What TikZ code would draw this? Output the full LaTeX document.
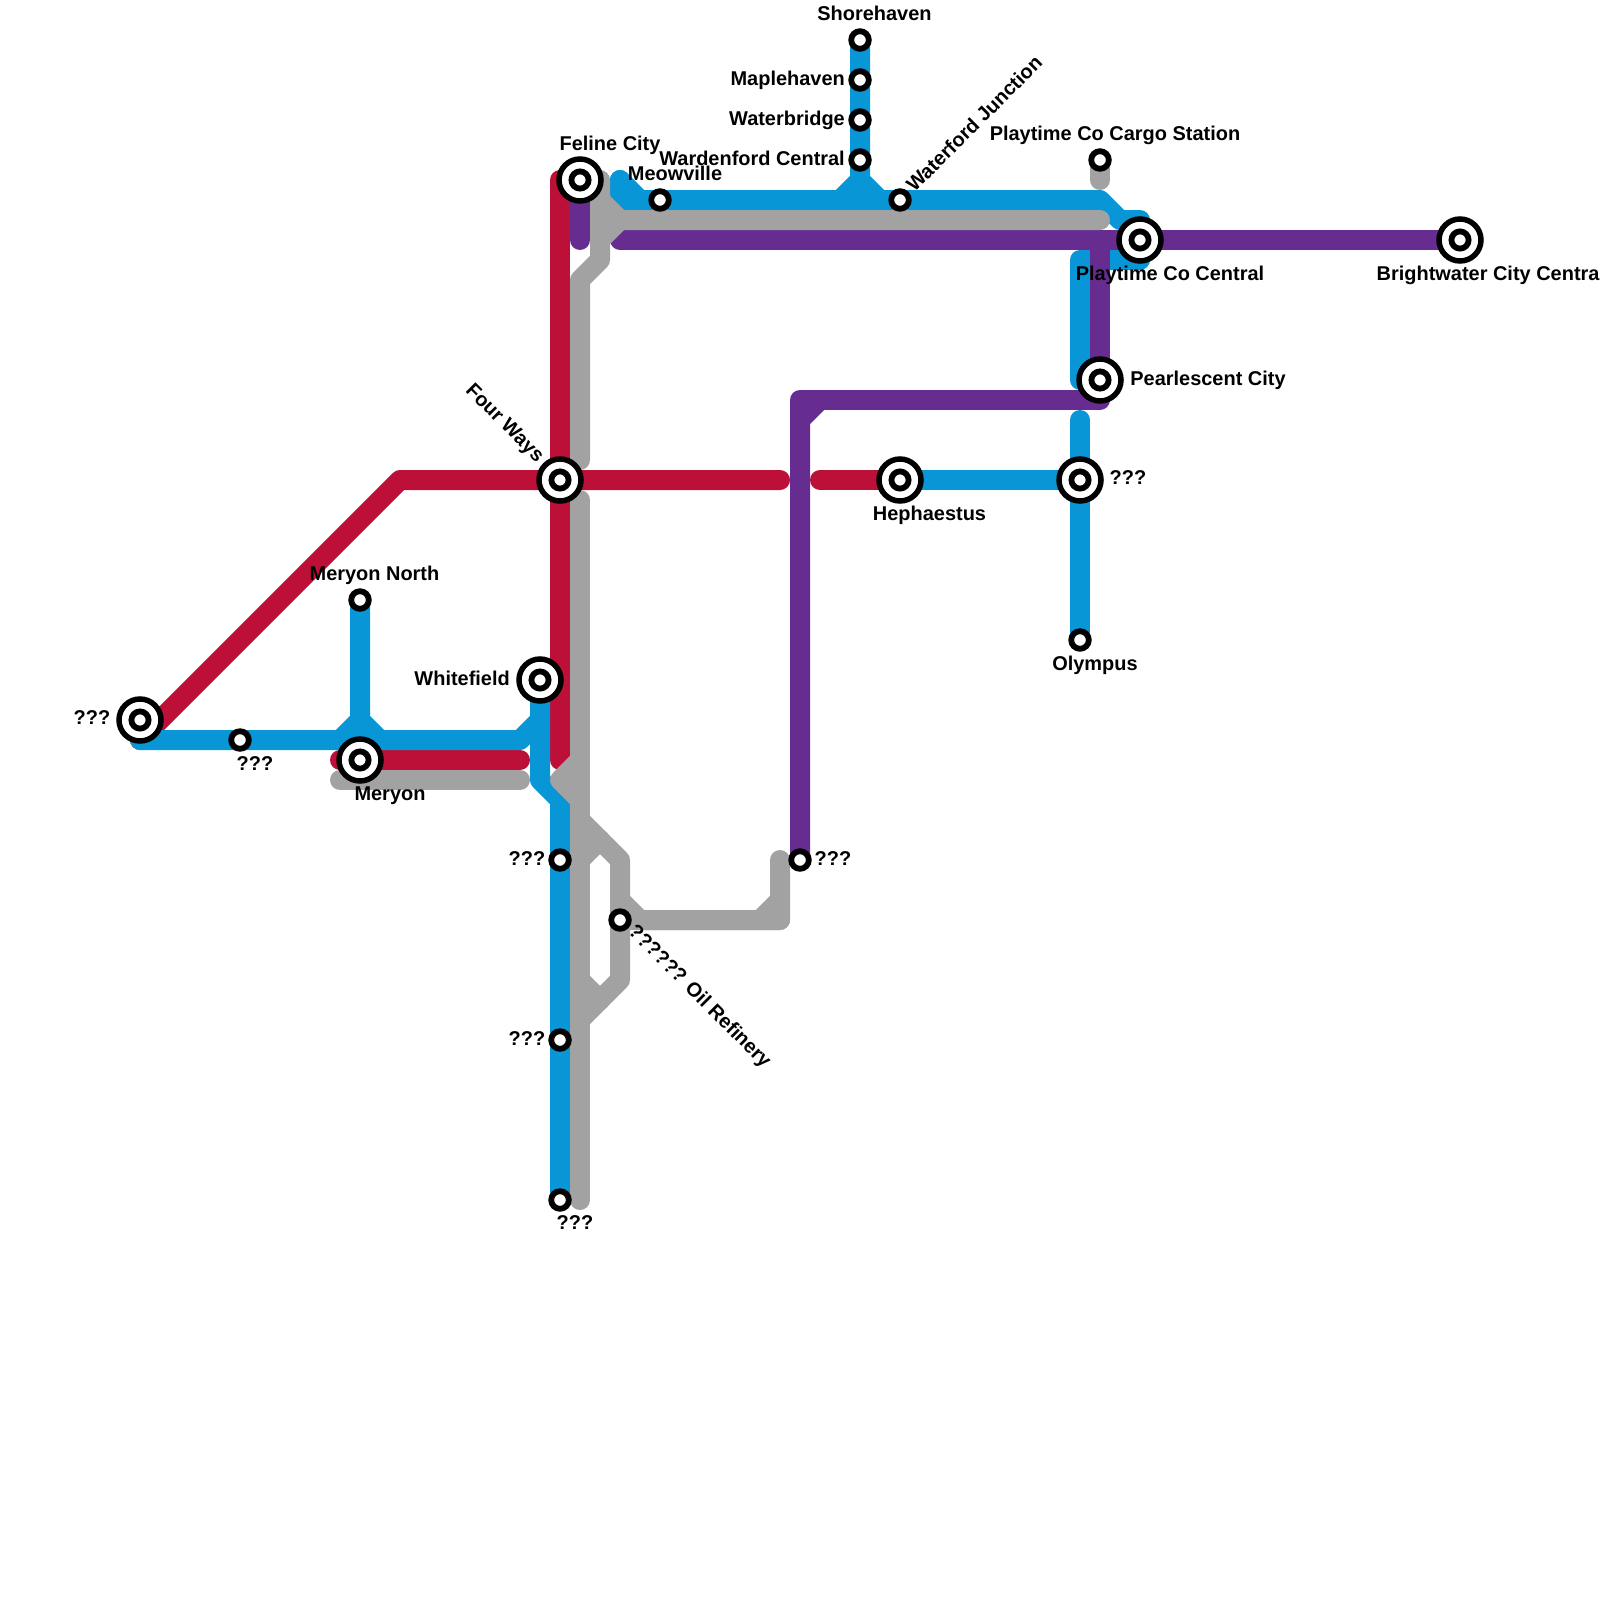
\documentclass[tikz,border=0pt]{standalone}
\usepackage{fontspec}
\setmainfont{Liberation Sans}
\usetikzlibrary{backgrounds}
\definecolor{tubeblue}{HTML}{0896D7}
\definecolor{tubered}{HTML}{BD1038}
\definecolor{tubepurple}{HTML}{662C90}
\definecolor{tubegrey}{HTML}{A2A2A2}
\begin{document}
\begin{tikzpicture}[x=1pt,y=-1pt,font=\fontsize{19.95}{24}\selectfont\bfseries]
      \tikzset{stn/.style={circle, draw=black, fill=white, line width=5.8pt, inner sep=0pt, minimum size=17.6pt},
        bigstn/.style={circle, draw=black, fill=white, line width=5.5pt, inner sep=0pt, minimum size=42pt,
          path picture={\draw[line width=5.8pt] (path picture bounding box.center) circle (8.6pt);}},
        lbl/.style={inner sep=0pt, text=black},
        tube/.style={line width=20pt, line cap=round, line join=round}}
      \useasboundingbox (0,0) rectangle (1600,1600);
      % stations
      \node[stn] (shorehaven) at (860,40) {};
      \node[stn] (maplehaven) at (860,80) {};
      \node[stn] (waterbridge) at (860,120) {};
      \node[stn] (wardenford) at (860,160) {};
      \node[stn] (waterford) at (900,200) {};
      \node[stn] (meowville) at (660,200) {};
      \node[stn] (cargo) at (1100,160) {};
      \node[stn] (olympus) at (1080,640) {};
      \node[stn] (merynorth) at (360,600) {};
      \node[stn] (westhalt) at (240,740) {};
      \node[stn] (southa) at (560,860) {};
      \node[stn] (southb) at (560,1040) {};
      \node[stn] (southc) at (560,1200) {};
      \node[stn] (purplend) at (800,860) {};
      \node[stn] (refinery) at (620,920) {};
      \node[bigstn] (feline) at (580,180) {};
      \node[bigstn] (fourways) at (560,480) {};
      \node[bigstn] (whitefield) at (540,680) {};
      \node[bigstn] (meryon) at (360,760) {};
      \node[bigstn] (westend) at (140,720) {};
      \node[bigstn] (hephaestus) at (900,480) {};
      \node[bigstn] (eastjunc) at (1080,480) {};
      \node[bigstn] (pearl) at (1100,380) {};
      \node[bigstn] (playcentral) at (1140,240) {};
      \node[bigstn] (brightwater) at (1460,240) {};
      % labels
      \node[lbl] (l1) at (874.5,13) {Shorehaven};
      \node[lbl,anchor=east] (l2) at (845,80) {Maplehaven};
      \node[lbl,anchor=east] (l3) at (845,120) {Waterbridge};
      \node[lbl,anchor=east] (l4) at (845,158) {Wardenford Central};
      \node[lbl,rotate=45] (l5) at (974,123.5) {Waterford Junction};
      \node[lbl] (l6) at (610,145) {Feline City};
      \node[lbl] (l7) at (675,173.5) {Meowville};
      \node[lbl] (l8) at (1115,135) {Playtime Co Cargo Station};
      \node[lbl] (l9) at (1170,275) {Playtime Co Central};
      \node[lbl,anchor=west] (l10) at (1376.5,275) {Brightwater City Central};
      \node[lbl] (l11) at (1208,380) {Pearlescent City};
      \node[lbl] (l12) at (1128,478) {???};
      \node[lbl] (l13) at (929.5,515) {Hephaestus};
      \node[lbl] (l14) at (1095,665) {Olympus};
      \node[lbl,rotate=-45] (l15) at (504,424) {Four Ways};
      \node[lbl] (l16) at (374.5,575.5) {Meryon North};
      \node[lbl,anchor=east] (l17) at (510,678) {Whitefield};
      \node[lbl] (l18) at (92,718) {???};
      \node[lbl] (l19) at (255,764) {???};
      \node[lbl] (l20) at (390,796) {Meryon};
      \node[lbl] (l21) at (527,859) {???};
      \node[lbl] (l22) at (833,859) {???};
      \node[lbl,rotate=-45] (l23) at (699,997) {?????? Oil Refinery};
      \node[lbl] (l24) at (527,1039) {???};
      \node[lbl] (l25) at (575,1223) {???};
      % free line ends
      \coordinate (bluewest) at (140,740);
      \coordinate (bluetop) at (620,180);
      \coordinate (bluemid) at (1080,420);
      \coordinate (redtop) at (560,180);
      \coordinate (redeast) at (820,480);
      \coordinate (rederyon) at (340,760);
      \coordinate (purpletop) at (620,240);
      \coordinate (greyup) at (580,460);
      \coordinate (greydown) at (580,500);
      \coordinate (greyfoot) at (580,1200);
      \coordinate (greyfork) at (600,200);
      \coordinate (greyfork2) at (600,240);
      \coordinate (greyeryon) at (340,780);
      \coordinate (greytip) at (580,760);
      \coordinate (loopa) at (580,820);
      \coordinate (loopb) at (580,860);
      \coordinate (loopc) at (580,980);
      \coordinate (spur) at (620,900);
      \begin{pgfonlayer}{background}
        % red
        \draw[tube,tubered] (bluewest) -- ++(260,-260) -- (fourways.center) -- ++(220,0);
        \draw[tube,tubered] (redeast) -- (hephaestus.center);
        \draw[tube,tubered] (redtop) -- (fourways.center) -- ++(0,280);
        \draw[tube,tubered] (rederyon) -- (meryon.center) -- ++(160,0);
        % blue
        \draw[tube,tubeblue] (bluewest) -- (westhalt.center) -- ++(280,0) -- ++(20,-20);
        \draw[tube,tubeblue] (whitefield.center) -- ++(0,100) -- ++(20,20) -- (southa.center) -- (southb.center) -- (southc.center);
        \draw[tube,tubeblue] (merynorth.center) -- ++(0,120) coordinate (meryfork) -- ++(-20,20) (meryfork) -- ++(20,20);
        \draw[tube,tubeblue] (shorehaven.center) -- (maplehaven.center) -- (waterbridge.center) -- (wardenford.center) -- ++(0,20) coordinate (wardenfork) -- ++(-20,20) (wardenfork) -- ++(20,20);
        \draw[tube,tubeblue] (bluetop) -- ++(20,20) -- (meowville.center) -- (waterford.center) -- ++(200,0) -- ++(20,20) -- ++(20,0) -- (playcentral.center) -- ++(0,20) -- ++(-60,0) -- ++(0,120);
        \draw[tube,tubeblue] (bluetop) -- ++(0,20) -- ++(20,0);
        \draw[tube,tubeblue] (hephaestus.center) -- (eastjunc.center);
        \draw[tube,tubeblue] (bluemid) -- (eastjunc.center) -- (olympus.center);
        % purple
        \draw[tube,tubepurple] (feline.center) -- ++(0,60);
        \draw[tube,tubepurple] (purpletop) -- (playcentral.center) -- (brightwater.center);
        \draw[tube,tubepurple] (playcentral.center) ++(-40,0) -- (pearl.center) -- ++(0,20) -- ++(-300,0) -- (purplend.center);
        \draw[tube,tubepurple] (purplend.center) -- ++(0,-440) -- ++(20,-20);
        % grey
        \draw[tube,tubegrey] (greyup) -- ++(0,-180) -- ++(20,-20) -- ++(0,-80);
        \draw[tube,tubegrey] (greydown) -- (greyfoot);
        \draw[tube,tubegrey] (greyfork) -- ++(20,20) -- ++(480,0);
        \draw[tube,tubegrey] (greyfork2) -- ++(20,-20);
        \draw[tube,tubegrey] (greyeryon) -- ++(180,0);
        \draw[tube,tubegrey] (greytip) -- ++(-20,20) -- ++(20,20);
        \draw[tube,tubegrey] (loopa) -- ++(40,40) -- (refinery.center) -- ++(0,60) -- ++(-40,40);
        \draw[tube,tubegrey] (loopb) -- ++(20,-20);
        \draw[tube,tubegrey] (loopc) -- ++(20,20);
        \draw[tube,tubegrey] (spur) -- ++(20,20) -- ++(140,0) -- ++(0,-60);
        \draw[tube,tubegrey] (refinery.center) -- ++(160,0) -- ++(-20,0) -- ++(20,-20);
        \draw[tube,tubegrey] (cargo.center) -- ++(0,20);
      \end{pgfonlayer}
    \end{tikzpicture}
\end{document}
